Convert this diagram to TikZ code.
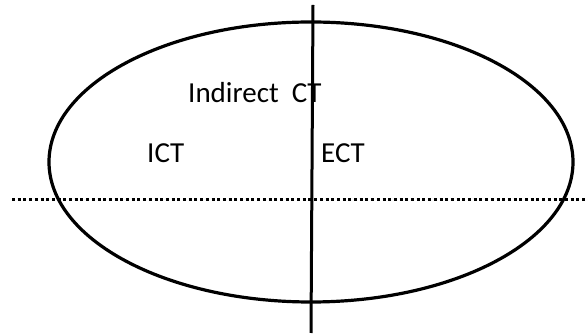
\documentclass[tikz,border=0pt]{standalone}
\usepackage{fontspec}
\setmainfont{Carlito}
\begin{document}
\begin{tikzpicture}[x=1pt,y=-1pt,
  lbl/.style={anchor=base west,inner sep=0pt,font=\fontsize{29}{34}\selectfont},
  solidline/.style={line width=3.2pt},
  dotline/.style={line width=3pt,dash pattern=on 3pt off 2.7pt}]
\useasboundingbox (0,0) rectangle (587,336);
\coordinate (c) at (311,162);
\draw[solidline] (c) ellipse [x radius=262, y radius=140];
\coordinate (hl) at (12,200);
\coordinate (hr) at (587,200);
\draw[dotline] (hl) -- (hr);
\coordinate (vt) at (313,5);
\coordinate (vb) at (311,333);
\draw[line width=3pt] (vt) -- (vb);
\node[lbl] (ind) at (188,103) {Indirect\ \ CT};
\node[lbl] (ict) at (147,163) {ICT};
\node[lbl] (ect) at (321,163) {ECT};
\end{tikzpicture}
\end{document}
